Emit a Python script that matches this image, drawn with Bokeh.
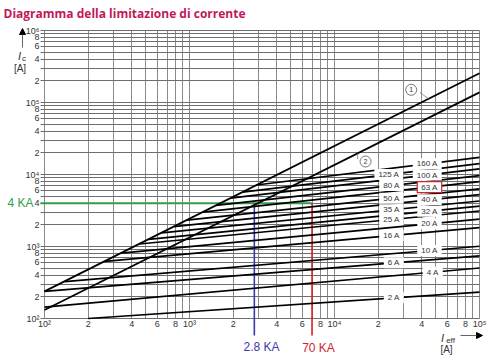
import numpy as np
from bokeh.plotting import figure
from bokeh.models import FixedTicker, Label, Arrow, NormalHead
from bokeh.embed import file_html
from bokeh.resources import INLINE

# ---------------- data ----------------
ieff_span = [100, 100000]          # prospective current I_eff [A]
curve1_ic = [238, 255000]          # curve 1
curve2_ic = [131, 138000]          # curve 2

fuse_names = ["2 A", "4 A", "6 A", "10 A", "16 A", "20 A", "25 A", "32 A",
              "35 A", "40 A", "50 A", "63 A", "80 A", "100 A", "125 A", "160 A"]
fuse_start_ieff = [200, 100, 100, 138, 261, 338, 451, 522, 641, 778, 958,
                   1229, 1528, 1918, 2320, 2898]
fuse_start_ic = [100, 144, 238, 326, 623, 810, 1083, 1259, 1550, 1884, 2327,
                 2994, 3736, 4700, 5700, 7147]
fuse_end_ic = [233, 503, 743, 1008, 1830, 2406, 3112, 3630, 4285, 5267, 6327,
               7943, 9660, 11940, 14170, 17330]
fuse_label_ieff = [25650, 47600, 25650, 45200, 24700, 45200, 24700, 45200,
                   24700, 45200, 24700, 45200, 24700, 43600, 23700, 43600]

example_ic = 4000        # 4 KA
example_ieff_blue = 2800
example_ieff_red = 7000

x_ticks = [m * 10 ** e for e in range(2, 5) for m in range(1, 10)] + [100000]
y_ticks = [m * 10 ** e for e in range(2, 6) for m in range(1, 10)] + [1000000]
sup = {2: "10\u00b2", 3: "10\u00b3", 4: "10\u2074", 5: "10\u2075", 6: "10\u2076"}

FONT = "Liberation Sans"
GREEN, BLUE, RED = "#2f9e4a", "#3a3aae", "#d2232a"
TXT = "#333333"

# ---------------- geometry of the picture ----------------
W, H = 500, 357
PX_DEC_X, PX_DEC_Y = 145, 72     # pixels per decade
FL, FB = 44, 318                 # canvas position of (100 A, 100 A)

def lab(t):
    e = int(np.floor(np.log10(t) + 1e-9))
    m = int(round(t / 10 ** e))
    if m == 1:
        return sup[e]
    return str(m) if m in (2, 4, 6, 8) else " "

def xval(cx):
    return 100 * 10 ** ((cx - FL) / PX_DEC_X)

def yval(cy):
    return 100 * 10 ** ((FB - cy) / PX_DEC_Y)

p = figure(width=W, height=H, x_axis_type="log", y_axis_type="log",
           x_range=(xval(0), xval(W)), y_range=(yval(H), yval(0)),
           output_backend="svg", toolbar_location=None,
           min_border_left=0, min_border_right=0, min_border_top=0,
           min_border_bottom=0)
p.outline_line_color = None

for ax, ticks in ((p.xaxis, x_ticks), (p.yaxis, y_ticks)):
    ax.ticker = FixedTicker(ticks=ticks, minor_ticks=[])
    ax.major_label_overrides = {t: lab(t) for t in ticks}
    ax.major_label_text_font = FONT
    ax.major_label_text_font_size = "9px"
    ax.major_label_text_color = TXT
    ax.major_tick_in = 0
    ax.major_tick_out = 0
    ax.axis_line_color = None
p.yaxis.major_label_standoff = -(FL - 5)
p.xaxis.major_label_standoff = -(H - FB)

p.xgrid.grid_line_color = "#8a8a8a"
p.ygrid.grid_line_color = "#6e6e6e"
p.xgrid.cross_bounds = (100, 1000000)
p.ygrid.cross_bounds = (xval(FL - 4), 100000)

def ll(x, xs, ys):
    return 10 ** np.interp(np.log10(x), np.log10(xs), np.log10(ys))

# green / blue / red example lines
p.line([xval(FL - 4), example_ieff_red], [example_ic, example_ic], line_color=GREEN, line_width=2)
for xv, col in ((example_ieff_blue, BLUE), (example_ieff_red, RED)):
    p.line([xv, xv], [example_ic, yval(335)], line_color=col, line_width=1.6)

# curves 1 and 2
p.line(ieff_span, curve1_ic, line_color="black", line_width=1.8)
p.line(ieff_span, curve2_ic, line_color="black", line_width=1.8)

# fuse let-through lines
for name, xs0, ys0, ye, xl in zip(fuse_names, fuse_start_ieff, fuse_start_ic,
                                  fuse_end_ic, fuse_label_ieff):
    xs = [xs0, ieff_span[1]]
    ys = [ys0, ye]
    p.line(xs, ys, line_color="black", line_width=1.7)
    p.add_layout(Label(x=xl, y=ll(xl, xs, ys), text=name, text_align="center",
                       text_baseline="middle", text_font=FONT, text_font_size="8px",
                       text_color=TXT, background_fill_color="white", padding=(4, 1),
                       border_line_color=RED if name == "63 A" else None,
                       border_line_width=1.2))

# curve markers 1 and 2
m1 = (33800, 150000)
m2 = (16370, 15160)
t1, t2 = 44500, 14500
p.line([m1[0] * 1.15, t1], [m1[1] * 0.92, ll(t1, ieff_span, curve1_ic)], line_color="#777777", line_width=0.8)
p.line([m2[0] * 0.88, t2], [m2[1] * 1.08, ll(t2, ieff_span, curve2_ic)], line_color="#777777", line_width=0.8)
p.scatter([m1[0], m2[0]], [m1[1], m2[1]], size=11, fill_color="white", line_color="#555555", line_width=0.8)
for (mx, my), t in ((m1, "1"), (m2, "2")):
    p.add_layout(Label(x=mx, y=my, text=t, text_align="center", text_baseline="middle",
                       text_font=FONT, text_font_size="7px", text_color=TXT))

# texts around the chart area (canvas coordinates -> frame screen units)
def canvas_label(cx, cy, text, **kw):
    opts = dict(text_font=FONT, text_font_size="10px", text_color=TXT,
                text_align="center", text_baseline="middle")
    opts.update(kw)
    p.add_layout(Label(x=cx, y=H - cy, x_units="screen", y_units="screen", text=text, **opts))

canvas_label(3, 13, "Diagramma della limitazione di corrente", text_font="Open Sans",
             text_font_size="12px", text_font_style="bold", text_color="#c2185b",
             text_align="left")
canvas_label(33, 202, "4 KA", text_color=GREEN, text_font_size="12px", text_align="right")
canvas_label(261, 346, "2.8 KA", text_color=BLUE, text_font_size="12px")
canvas_label(318, 347, "70 KA", text_color=RED, text_font_size="12px")

canvas_label(19, 55, "I", text_font_style="italic", text_font_size="11px")
canvas_label(23.5, 58, "c", text_font_size="8px")
canvas_label(19.5, 68, "[A]", text_font_size="10px")
canvas_label(442, 337, "I", text_font_style="italic", text_font_size="11px")
canvas_label(450, 340, "eff", text_font_size="8px")
canvas_label(446, 349, "[A]", text_font_size="10px")

head = dict(size=6, fill_color="black", line_color="black")
p.add_layout(Arrow(end=NormalHead(**head), x_start=22, y_start=H - 47, x_end=22, y_end=H - 28,
                   start_units="screen", end_units="screen", line_color="#666666", line_width=1))
p.add_layout(Arrow(end=NormalHead(**head), x_start=460, y_start=H - 335, x_end=482, y_end=H - 335,
                   start_units="screen", end_units="screen", line_color="#666666", line_width=1))

open("out.html", "w").write(file_html(p, INLINE))
